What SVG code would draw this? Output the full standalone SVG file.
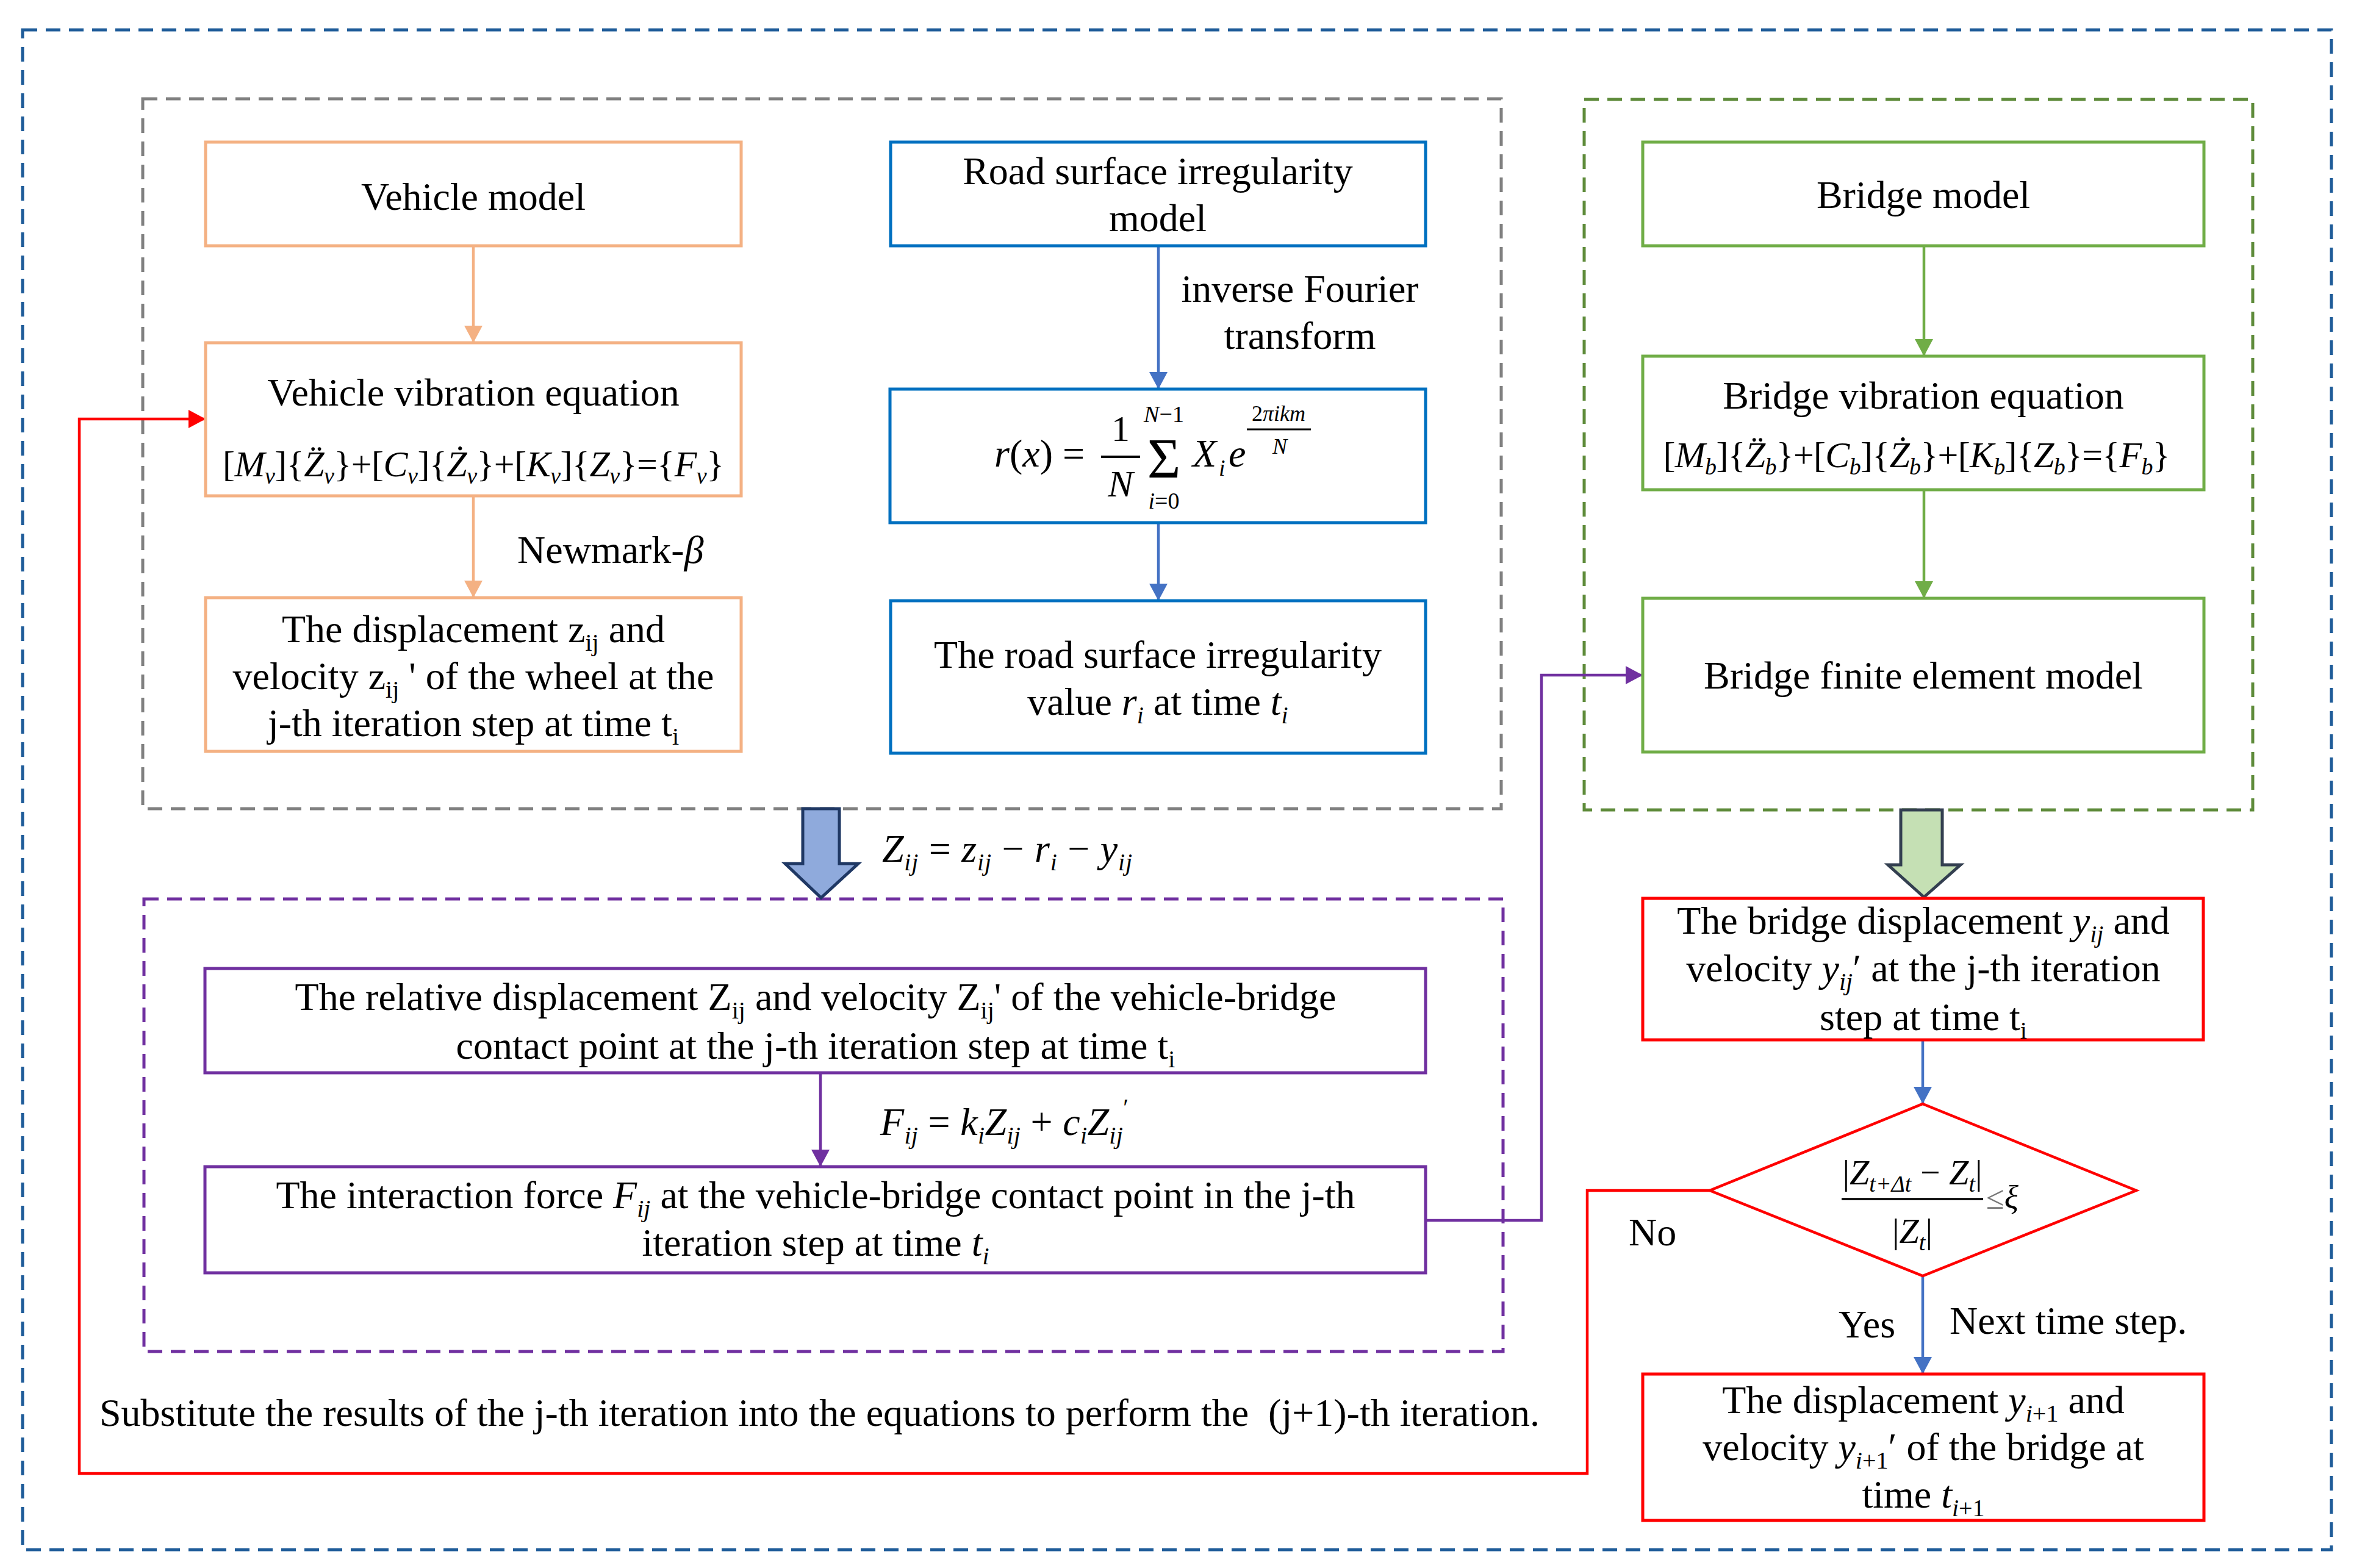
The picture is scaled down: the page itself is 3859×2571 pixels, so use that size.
<svg xmlns="http://www.w3.org/2000/svg" width="3859" height="2571" viewBox="0 0 3859 2571">
<style>
.t{font-family:"Liberation Serif","Times New Roman",serif;font-size:64px;fill:#000;text-anchor:middle}
.l{text-anchor:start}
.i{font-style:italic}
.s{font-size:40px}
.xs{font-size:38px}
.box{fill:#fff;stroke-width:5}
.dash{fill:none;stroke-width:5;stroke-dasharray:24 14}
.c{fill:none;stroke-width:4.5}
</style>
<defs>
<marker id="aO" markerUnits="userSpaceOnUse" viewBox="0 0 28 30" refX="28" refY="15" markerWidth="28" markerHeight="30" orient="auto"><path d="M0,0 L28,15 L0,30 z" fill="#F4B183"/></marker>
<marker id="aB" markerUnits="userSpaceOnUse" viewBox="0 0 28 30" refX="28" refY="15" markerWidth="28" markerHeight="30" orient="auto"><path d="M0,0 L28,15 L0,30 z" fill="#4472C4"/></marker>
<marker id="aG" markerUnits="userSpaceOnUse" viewBox="0 0 28 30" refX="28" refY="15" markerWidth="28" markerHeight="30" orient="auto"><path d="M0,0 L28,15 L0,30 z" fill="#70AD47"/></marker>
<marker id="aP" markerUnits="userSpaceOnUse" viewBox="0 0 28 30" refX="28" refY="15" markerWidth="28" markerHeight="30" orient="auto"><path d="M0,0 L28,15 L0,30 z" fill="#7030A0"/></marker>
<marker id="aR" markerUnits="userSpaceOnUse" viewBox="0 0 28 30" refX="28" refY="15" markerWidth="28" markerHeight="30" orient="auto"><path d="M0,0 L28,15 L0,30 z" fill="#FF0000"/></marker>
</defs>
<rect x="0" y="0" width="3859" height="2571" fill="#fff"/>

<g id="frames">
<rect class="dash" x="37" y="49" width="3785" height="2492" stroke="#1F5C99" stroke-dasharray="26 16" stroke-width="6"/>
<rect class="dash" x="234" y="162" width="2227" height="1164" stroke="#808080"/>
<rect class="dash" x="2597" y="163" width="1096" height="1165" stroke="#5E8B3A"/>
<rect class="dash" x="236" y="1474" width="2228" height="742" stroke="#7030A0"/>
</g>

<g id="connectors">
<line class="c" x1="776" y1="403" x2="776" y2="562" stroke="#F4B183" marker-end="url(#aO)"/>
<line class="c" x1="776" y1="813" x2="776" y2="980" stroke="#F4B183" marker-end="url(#aO)"/>
<line class="c" x1="1899" y1="403" x2="1899" y2="638" stroke="#4472C4" marker-end="url(#aB)"/>
<line class="c" x1="1899" y1="857" x2="1899" y2="985" stroke="#4472C4" marker-end="url(#aB)"/>
<line class="c" x1="3154" y1="403" x2="3154" y2="584" stroke="#70AD47" marker-end="url(#aG)"/>
<line class="c" x1="3154" y1="803" x2="3154" y2="981" stroke="#70AD47" marker-end="url(#aG)"/>
<line class="c" x1="1345" y1="1759" x2="1345" y2="1913" stroke="#7030A0" marker-end="url(#aP)"/>
<polyline class="c" points="2337,2001 2527,2001 2527,1107 2693,1107" stroke="#7030A0" marker-end="url(#aP)"/>
<line class="c" x1="3152" y1="1705" x2="3152" y2="1810" stroke="#4472C4" marker-end="url(#aB)"/>
<line class="c" x1="3152" y1="2092" x2="3152" y2="2253" stroke="#4472C4" marker-end="url(#aB)"/>
<polyline class="c" points="2803,1952 2602,1952 2602,2416 130,2416 130,687 337,687" stroke="#FF0000" marker-end="url(#aR)"/>
<polygon points="1316,1326 1376,1326 1376,1416 1407,1416 1346,1472 1287,1416 1316,1416" fill="#8FAADC" stroke="#1F3864" stroke-width="5"/>
<polygon points="3116,1328 3184,1328 3184,1418 3214,1418 3154,1471 3095,1418 3116,1418" fill="#C5E0B4" stroke="#333F50" stroke-width="5"/>
</g>

<g id="vehicle-model">
<rect class="box" x="337" y="233" width="878" height="170" stroke="#F4B183"/>
<text class="t" x="776" y="344">Vehicle model</text>
</g>

<g id="vehicle-equation">
<rect class="box" x="337" y="562" width="878" height="251" stroke="#F4B183"/>
<text class="t" x="776" y="665">Vehicle vibration equation</text>
<text class="t" x="776" y="781" style="font-size:60px" textLength="822" lengthAdjust="spacing">[<tspan class="i">M</tspan><tspan class="xs i" dy="12">v</tspan><tspan dy="-12">]{</tspan><tspan class="i">Z&#x308;</tspan><tspan class="xs i" dy="12">v</tspan><tspan dy="-12">}+[</tspan><tspan class="i">C</tspan><tspan class="xs i" dy="12">v</tspan><tspan dy="-12">]{</tspan><tspan class="i">&#x17B;</tspan><tspan class="xs i" dy="12">v</tspan><tspan dy="-12">}+[</tspan><tspan class="i">K</tspan><tspan class="xs i" dy="12">v</tspan><tspan dy="-12">]{</tspan><tspan class="i">Z</tspan><tspan class="xs i" dy="12">v</tspan><tspan dy="-12">}={</tspan><tspan class="i">F</tspan><tspan class="xs i" dy="12">v</tspan><tspan dy="-12">}</tspan></text>
</g>

<g id="newmark-label">
<text class="t l" x="848" y="923">Newmark-<tspan class="i">β</tspan></text>
</g>

<g id="vehicle-displacement">
<rect class="box" x="337" y="980" width="878" height="252" stroke="#F4B183"/>
<text class="t" x="776" y="1053">The displacement z<tspan class="s" dy="14">ij</tspan><tspan dy="-14"> and</tspan></text>
<text class="t" x="776" y="1130">velocity z<tspan class="s" dy="14">ij</tspan><tspan dy="-14"> ' of the wheel at the</tspan></text>
<text class="t" x="776" y="1207">j-th iteration step at time t<tspan class="s" dy="14">i</tspan></text>
</g>

<g id="road-model">
<rect class="box" x="1460" y="233" width="877" height="170" stroke="#0070C0"/>
<text class="t" x="1898" y="302">Road surface irregularity</text>
<text class="t" x="1898" y="379">model</text>
</g>

<g id="fourier-label">
<text class="t" x="2131" y="495">inverse Fourier</text>
<text class="t" x="2131" y="572">transform</text>
</g>

<g id="road-formula">
<rect class="box" x="1459" y="638" width="878" height="219" stroke="#0070C0"/>
<text class="t l" x="1630" y="765"><tspan class="i">r</tspan>(<tspan class="i">x</tspan>) =</text>
<line x1="1805" y1="749" x2="1869" y2="749" stroke="#000" stroke-width="4"/>
<text class="t" x="1837" y="723" style="font-size:60px">1</text>
<text class="t i" x="1837" y="814" style="font-size:62px">N</text>
<text class="t" x="1908" y="783" style="font-size:94px">Σ</text>
<text class="t" x="1908" y="692" style="font-size:38px"><tspan class="i">N</tspan>−1</text>
<text class="t" x="1908" y="834" style="font-size:38px"><tspan class="i">i</tspan>=0</text>
<text class="t l i" x="1955" y="765">X</text>
<text class="t l i" x="1998" y="780" style="font-size:38px">i</text>
<text class="t l i" x="2014" y="765">e</text>
<text class="t" x="2096" y="690" style="font-size:36px">2<tspan class="i">πikm</tspan></text>
<line x1="2044" y1="704" x2="2149" y2="704" stroke="#000" stroke-width="3"/>
<text class="t i" x="2098" y="744" style="font-size:36px">N</text>
</g>

<g id="road-value">
<rect class="box" x="1460" y="985" width="877" height="250" stroke="#0070C0"/>
<text class="t" x="1898" y="1095">The road surface irregularity</text>
<text class="t" x="1898" y="1172">value <tspan class="i">r</tspan><tspan class="s i" dy="14">i</tspan><tspan dy="-14"> at time </tspan><tspan class="i">t</tspan><tspan class="s i" dy="14">i</tspan></text>
</g>

<g id="bridge-model">
<rect class="box" x="2693" y="233" width="920" height="170" stroke="#70AD47"/>
<text class="t" x="3153" y="341">Bridge model</text>
</g>

<g id="bridge-equation">
<rect class="box" x="2693" y="584" width="920" height="219" stroke="#70AD47"/>
<text class="t" x="3153" y="670">Bridge vibration equation</text>
<text class="t" x="3142" y="766" style="font-size:60px" textLength="831" lengthAdjust="spacing">[<tspan class="i">M</tspan><tspan class="xs i" dy="12">b</tspan><tspan dy="-12">]{</tspan><tspan class="i">Z&#x308;</tspan><tspan class="xs i" dy="12">b</tspan><tspan dy="-12">}+[</tspan><tspan class="i">C</tspan><tspan class="xs i" dy="12">b</tspan><tspan dy="-12">]{</tspan><tspan class="i">&#x17B;</tspan><tspan class="xs i" dy="12">b</tspan><tspan dy="-12">}+[</tspan><tspan class="i">K</tspan><tspan class="xs i" dy="12">b</tspan><tspan dy="-12">]{</tspan><tspan class="i">Z</tspan><tspan class="xs i" dy="12">b</tspan><tspan dy="-12">}={</tspan><tspan class="i">F</tspan><tspan class="xs i" dy="12">b</tspan><tspan dy="-12">}</tspan></text>
</g>

<g id="bridge-fe-model">
<rect class="box" x="2693" y="981" width="920" height="252" stroke="#70AD47"/>
<text class="t" x="3153" y="1129">Bridge finite element model</text>
</g>

<g id="relative-formula">
<text class="t l" x="1446" y="1413" textLength="410" lengthAdjust="spacing"><tspan class="i">Z</tspan><tspan class="s i" dy="14">ij</tspan><tspan dy="-14"> = </tspan><tspan class="i">z</tspan><tspan class="s i" dy="14">ij</tspan><tspan dy="-14"> − </tspan><tspan class="i">r</tspan><tspan class="s i" dy="14">i</tspan><tspan dy="-14"> − </tspan><tspan class="i">y</tspan><tspan class="s i" dy="14">ij</tspan></text>
</g>

<g id="relative-displacement">
<rect class="box" x="336" y="1588" width="2001" height="171" stroke="#7030A0"/>
<text class="t" x="1337" y="1656">The relative displacement Z<tspan class="s" dy="14">ij</tspan><tspan dy="-14"> and velocity Z</tspan><tspan class="s" dy="14">ij</tspan><tspan dy="-14">' of the vehicle-bridge</tspan></text>
<text class="t" x="1337" y="1736">contact point at the j-th iteration step at time t<tspan class="s" dy="14">i</tspan></text>
</g>

<g id="force-formula">
<text class="t l" x="1443" y="1861" textLength="407" lengthAdjust="spacing"><tspan class="i">F</tspan><tspan class="s i" dy="14">ij</tspan><tspan dy="-14"> = </tspan><tspan class="i">k</tspan><tspan class="s i" dy="14">i</tspan><tspan class="i" dy="-14">Z</tspan><tspan class="s i" dy="14">ij</tspan><tspan dy="-14"> + </tspan><tspan class="i">c</tspan><tspan class="s i" dy="14">i</tspan><tspan class="i" dy="-14">Z</tspan><tspan class="s i" dy="14">ij</tspan><tspan class="s" dy="-46">′</tspan></text>
</g>

<g id="interaction-force">
<rect class="box" x="336" y="1913" width="2001" height="174" stroke="#7030A0"/>
<text class="t" x="1337" y="1981">The interaction force <tspan class="i">F</tspan><tspan class="s i" dy="14">ij</tspan><tspan dy="-14"> at the vehicle-bridge contact point in the j-th</tspan></text>
<text class="t" x="1337" y="2059">iteration step at time <tspan class="i">t</tspan><tspan class="s i" dy="14">i</tspan></text>
</g>

<g id="bridge-displacement">
<rect class="box" x="2693" y="1473" width="919" height="232" stroke="#FF0000"/>
<text class="t" x="3153" y="1531">The bridge displacement <tspan class="i">y</tspan><tspan class="s i" dy="14">ij</tspan><tspan dy="-14"> and</tspan></text>
<text class="t" x="3153" y="1609">velocity <tspan class="i">y</tspan><tspan class="s i" dy="14">ij</tspan><tspan dy="-14">′ at the j-th iteration</tspan></text>
<text class="t" x="3153" y="1689">step at time t<tspan class="s" dy="14">i</tspan></text>
</g>

<g id="convergence-check">
<polygon points="3152,1810 3502,1952 3152,2092 2803,1952" fill="#fff" stroke="#FF0000" stroke-width="4.5"/>
<text class="t" x="3135" y="1942" style="font-size:58px">|<tspan class="i">Z</tspan><tspan class="xs i" dy="12">t+Δt</tspan><tspan dy="-12"> − </tspan><tspan class="i">Z</tspan><tspan class="xs i" dy="12">t</tspan><tspan dy="-12">|</tspan></text>
<line x1="3019" y1="1966" x2="3251" y2="1966" stroke="#000" stroke-width="3.5"/>
<text class="t" x="3135" y="2038" style="font-size:58px">|<tspan class="i">Z</tspan><tspan class="xs i" dy="12">t</tspan><tspan dy="-12">|</tspan></text>
<text class="t l" x="3256" y="1982" style="font-size:54px"><tspan fill="#777">≤</tspan><tspan class="i">ξ</tspan></text>
</g>

<g id="loop-labels">
<text class="t l" x="2670" y="2042">No</text>
<text class="t l" x="3014" y="2193">Yes</text>
<text class="t l" x="3196" y="2187">Next time step.</text>
<text class="t l" x="163" y="2338" style="white-space:pre">Substitute the results of the j-th iteration into the equations to perform the  (j+1)-th iteration.</text>
</g>

<g id="next-displacement">
<rect class="box" x="2693" y="2253" width="920" height="240" stroke="#FF0000"/>
<text class="t" x="3153" y="2317">The displacement <tspan class="i">y</tspan><tspan class="s" dy="14"><tspan class="i">i</tspan>+1</tspan><tspan dy="-14"> and</tspan></text>
<text class="t" x="3153" y="2394">velocity <tspan class="i">y</tspan><tspan class="s" dy="14"><tspan class="i">i</tspan>+1</tspan><tspan dy="-14">′ of the bridge at</tspan></text>
<text class="t" x="3153" y="2472">time <tspan class="i">t</tspan><tspan class="s" dy="14"><tspan class="i">i</tspan>+1</tspan></text>
</g>
</svg>
